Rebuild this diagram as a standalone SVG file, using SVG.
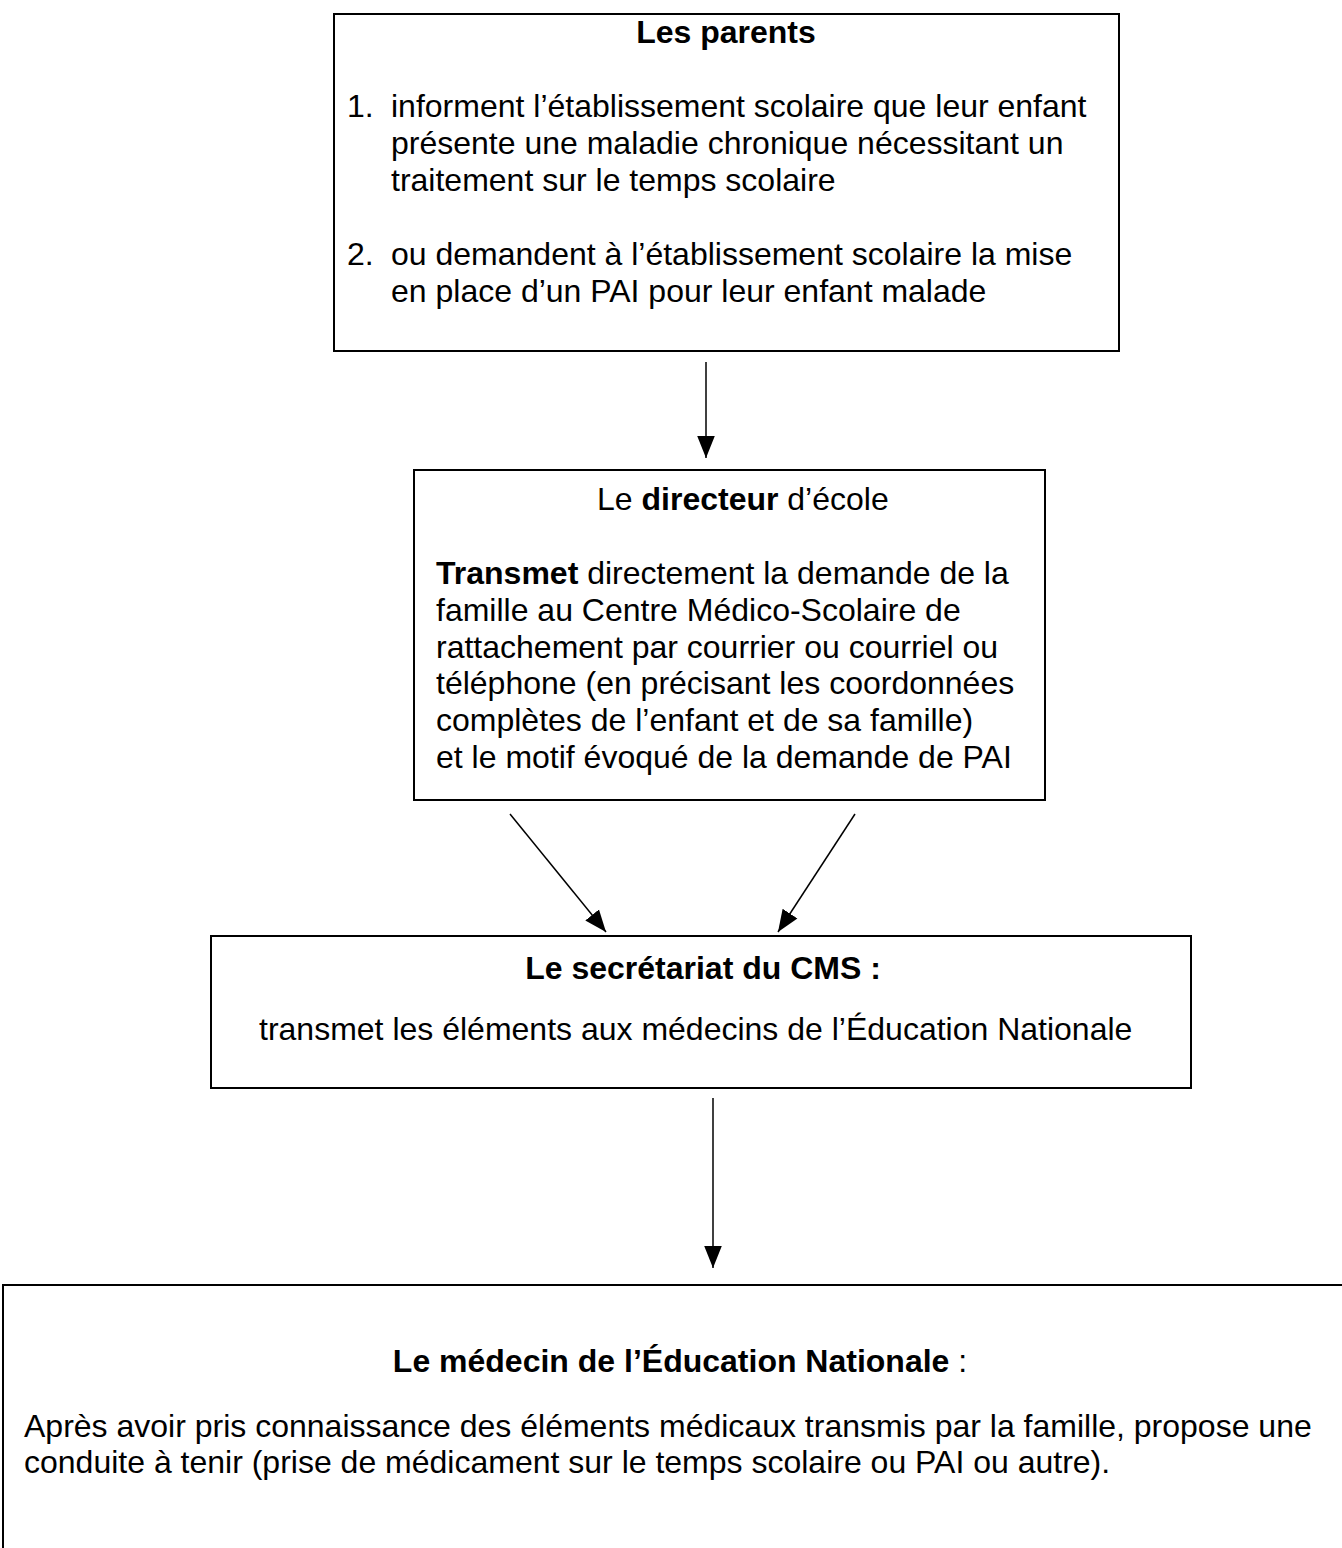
<svg xmlns="http://www.w3.org/2000/svg" width="1342" height="1548" viewBox="0 0 1342 1548">
<defs>
<style>
.box{fill:#fff;stroke:#000;stroke-width:2}
.t{font-family:"Liberation Sans",Arial,sans-serif;font-size:32px;fill:#000}
.c{text-anchor:middle}
.b{font-weight:bold}
.ln{stroke:#000;stroke-width:1.5;fill:none}
</style>
<marker id="ah" viewBox="0 0 10 10" refX="10" refY="5" markerWidth="22" markerHeight="22" markerUnits="userSpaceOnUse" orient="auto">
<path d="M0,1 L10,5 L0,9 z" fill="#000"/>
</marker>
</defs>
<rect width="1342" height="1548" fill="#fff"/>
<g id="connectors">
<line class="ln" x1="706" y1="362" x2="706" y2="458" marker-end="url(#ah)"/>
<line class="ln" x1="510" y1="814" x2="606" y2="932" marker-end="url(#ah)"/>
<line class="ln" x1="855" y1="814" x2="778" y2="932" marker-end="url(#ah)"/>
<line class="ln" x1="713" y1="1098" x2="713" y2="1268" marker-end="url(#ah)"/>
</g>
<g id="parents">
<rect class="box" x="334" y="14" width="785" height="337"/>
<text class="t c b" x="726" y="43">Les parents</text>
<text class="t" x="347" y="117">1.</text>
<text class="t" x="391" y="117">informent l’établissement scolaire que leur enfant</text>
<text class="t" x="391" y="154">présente une maladie chronique nécessitant un</text>
<text class="t" x="391" y="191">traitement sur le temps scolaire</text>
<text class="t" x="347" y="265">2.</text>
<text class="t" x="391" y="265">ou demandent à l’établissement scolaire la mise</text>
<text class="t" x="391" y="302">en place d’un PAI pour leur enfant malade</text>
</g>
<g id="directeur">
<rect class="box" x="414" y="470" width="631" height="330"/>
<text class="t" x="597" y="510">Le <tspan class="b">directeur</tspan> d’école</text>
<text class="t" x="436" y="584"><tspan class="b">Transmet</tspan> directement la demande de la</text>
<text class="t" x="436" y="621">famille au Centre Médico-Scolaire de</text>
<text class="t" x="436" y="658">rattachement par courrier ou courriel ou</text>
<text class="t" x="436" y="694">téléphone (en précisant les coordonnées</text>
<text class="t" x="436" y="731">complètes de l’enfant et de sa famille)</text>
<text class="t" x="436" y="768">et le motif évoqué de la demande de PAI</text>
</g>
<g id="secretariat">
<rect class="box" x="211" y="936" width="980" height="152"/>
<text class="t c b" x="703" y="979">Le secrétariat du CMS :</text>
<text class="t" x="259" y="1040">transmet les éléments aux médecins de l’Éducation Nationale</text>
</g>
<g id="medecin">
<rect class="box" x="3" y="1285" width="1360" height="300"/>
<text class="t c" x="680" y="1372"><tspan class="b">Le médecin de l’Éducation Nationale</tspan> :</text>
<text class="t" x="24" y="1437">Après avoir pris connaissance des éléments médicaux transmis par la famille, propose une</text>
<text class="t" x="24" y="1473">conduite à tenir (prise de médicament sur le temps scolaire ou PAI ou autre).</text>
</g>
</svg>
